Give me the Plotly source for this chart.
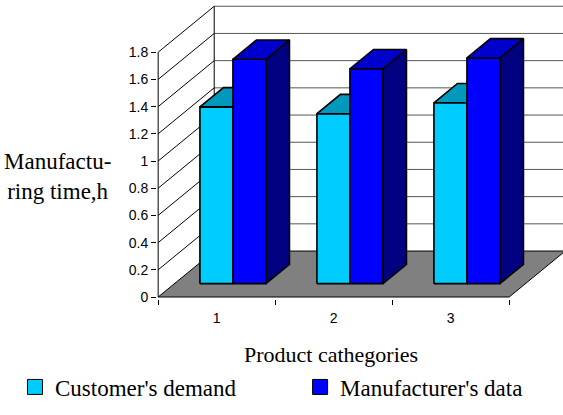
import plotly.graph_objects as go

# ---------------- data ----------------
categories = ["1", "2", "3"]
series_names = ["Customer's demand", "Manufacturer's data"]
customer_demand = [1.30, 1.25, 1.33]
manufacturer_data = [1.65, 1.58, 1.66]
y_ticks = [0, 0.2, 0.4, 0.6, 0.8, 1.0, 1.2, 1.4, 1.6, 1.8]
y_tick_labels = ["0", "0.2", "0.4", "0.6", "0.8", "1", "1.2", "1.4", "1.6", "1.8"]

# ---------------- styling / pseudo-3D geometry ----------------
SERIES = [
    dict(name=series_names[0], values=customer_demand, legend="legend",
         front="#00CCFF", top="#0099BB", side="#006680"),
    dict(name=series_names[1], values=manufacturer_data, legend="legend2",
         front="#0000FF", top="#0000CC", side="#000080"),
]
DX, DY = 0.479, 0.338      # depth vector (data units)
D0, D1 = 0.29, 0.71        # depth extent of the bars
BAR_W = 0.282              # width of one bar (category units)
YMAX = y_ticks[-1]
N = len(categories)
SERIF = "Liberation Serif"
SANS = "Liberation Sans"


def P(x, v, d):
    return (x + DX * d, v + DY * d)


def poly(pts, fill, line="black", width=1.0):
    xs = [p[0] for p in pts] + [pts[0][0]]
    ys = [p[1] for p in pts] + [pts[0][1]]
    return go.Scatter(x=xs, y=ys, mode="lines", fill="toself", fillcolor=fill,
                      line=dict(color=line, width=width), showlegend=False,
                      hoverinfo="skip")


def segs(pairs, color, width=1.0):
    xs, ys = [], []
    for a, b in pairs:
        xs += [a[0], b[0], None]
        ys += [a[1], b[1], None]
    return go.Scatter(x=xs, y=ys, mode="lines", line=dict(color=color, width=width),
                      showlegend=False, hoverinfo="skip")


fig = go.Figure()

# back wall grid lines
fig.add_trace(segs([(P(0, v, 1), P(N, v, 1)) for v in y_ticks[1:]], "#555555", 1))
# left wall lines
left = [(P(0, v, 0), P(0, v, 1)) for v in y_ticks[1:]]
left.append((P(0, 0, 1), P(0, YMAX, 1)))
fig.add_trace(segs(left, "black", 1))
# floor
fig.add_trace(poly([P(0, 0, 0), P(N, 0, 0), P(N, 0, 1), P(0, 0, 1)], "#808080", "black", 1))
# front value axis line
fig.add_trace(segs([(P(0, 0, 0), P(0, YMAX, 0))], "black", 1))

# bars
for i in range(N):
    for k, s in enumerate(SERIES):
        v = s["values"][i]
        x0 = i + 0.5 - BAR_W + k * BAR_W
        x1 = x0 + BAR_W
        fig.add_trace(poly([P(x1, 0, D0), P(x1, 0, D1), P(x1, v, D1), P(x1, v, D0)], s["side"], width=1.6))
        fig.add_trace(poly([P(x0, 0, D0), P(x1, 0, D0), P(x1, v, D0), P(x0, v, D0)], s["front"], width=1.6))
        fig.add_trace(poly([P(x0, v, D0), P(x1, v, D0), P(x1, v, D1), P(x0, v, D1)], s["top"], width=1.6))

# legend entries (one legend per series, placed like the original)
for s in SERIES:
    fig.add_trace(go.Scatter(x=[None], y=[None], mode="markers", name=s["name"],
                             legend=s["legend"],
                             marker=dict(symbol="square", size=15, color=s["front"],
                                         line=dict(color="black", width=1))))

legend_common = dict(orientation="h", xref="container", yref="container",
                     xanchor="left", yanchor="middle",
                     font=dict(family=SERIF, size=23, color="black"),
                     bgcolor="rgba(0,0,0,0)")

fig.update_layout(
    width=563, height=415,
    margin=dict(l=157, r=0, t=0, b=116),
    paper_bgcolor="white", plot_bgcolor="white",
    xaxis=dict(range=[-0.01, 3.46], tickvals=[i + 0.5 for i in range(N)], ticktext=categories,
               ticks="outside", ticklen=6, tickcolor="rgba(0,0,0,0)",
               minor=dict(tickvals=list(range(N + 1)), ticks="outside", ticklen=5,
                          tickcolor="black", tickwidth=1),
               showgrid=False, zeroline=False, showline=False, fixedrange=True,
               tickfont=dict(family=SANS, size=14, color="black")),
    yaxis=dict(range=[-0.0147, 2.184], tickvals=y_ticks, ticktext=y_tick_labels,
               ticks="outside", ticklen=5, tickcolor="black", tickwidth=1,
               showgrid=False, zeroline=False, showline=False, fixedrange=True,
               tickfont=dict(family=SANS, size=14, color="black")),
    showlegend=True,
    legend=dict(x=0.0266, y=0.0675, **legend_common),
    legend2=dict(x=0.533, y=0.0675, **legend_common),
    annotations=[
        dict(text="Manufactu-<br>ring time,h", xref="paper", yref="paper",
             x=-0.244, y=0.411, xanchor="center", yanchor="middle", showarrow=False,
             font=dict(family=SERIF, size=23, color="black")),
        dict(text="Product cathegories", xref="x", yref="paper",
             x=1.48, y=-0.187, xanchor="center", yanchor="middle", showarrow=False,
             font=dict(family=SERIF, size=22, color="black")),
    ],
)

fig.write_html("out.html", config={"displayModeBar": False},
               post_script="document.body.style.margin='0';")
